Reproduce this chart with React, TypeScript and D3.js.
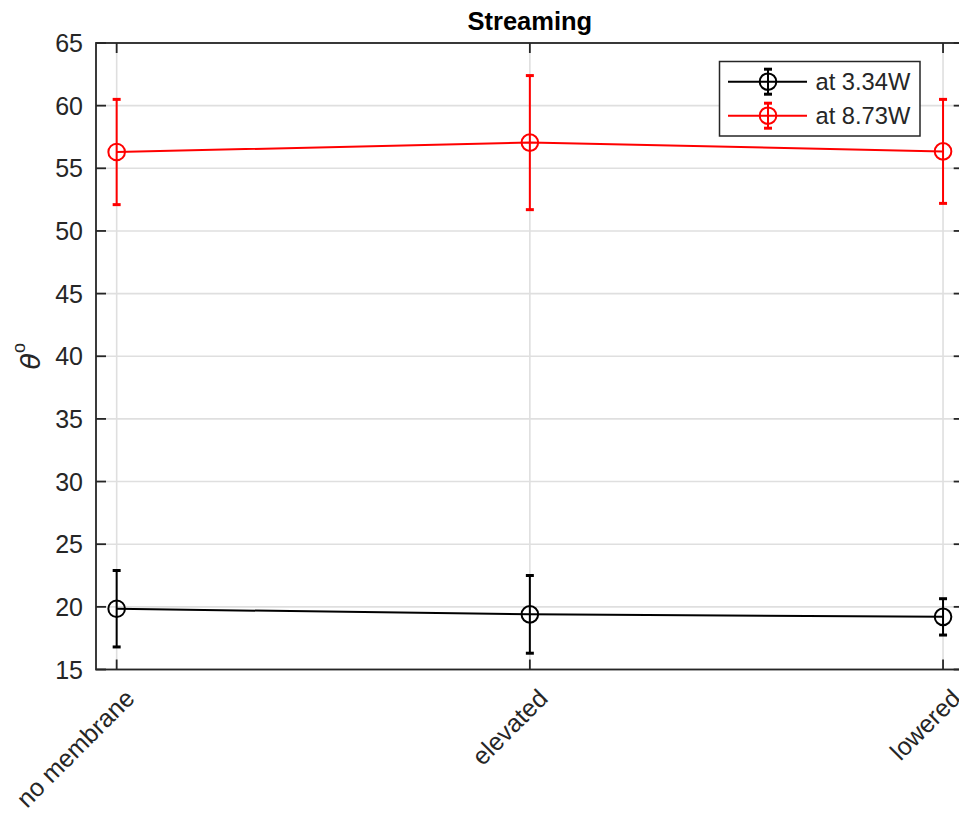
import React from "react";
import * as d3 from "d3";

// Streaming angle per membrane configuration, two power levels
const categories = ["no membrane", "elevated", "lowered"];
const lowPowerMean = [19.85, 19.4, 19.2];
const lowPowerErr = [3.05, 3.1, 1.45];
const highPowerMean = [56.3, 57.05, 56.35];
const highPowerErr = [4.2, 5.35, 4.15];
const yTicks = [15, 20, 25, 30, 35, 40, 45, 50, 55, 60, 65];
const seriesNames = ["at 3.34W", "at 8.73W"];

const W = 959;
const H = 819;
const left = 96;
const right = 963.7;
const top = 43;
const bottom = 669.5;
const axisColor = "#262626";
const font = "'Liberation Sans', Arial, Helvetica, sans-serif";

export default function App() {
  const x = d3.scaleLinear().domain([0.95, 3.05]).range([left, right]);
  const y = d3.scaleLinear().domain([15, 65]).range([bottom, top]);
  const idx = categories.map((_, i) => i + 1);

  const series = [
    { name: seriesNames[0], color: "#000000", mean: lowPowerMean, err: lowPowerErr },
    { name: seriesNames[1], color: "#ff0000", mean: highPowerMean, err: highPowerErr },
  ];

  const line = d3
    .line<number>()
    .x((_, i) => x(idx[i]))
    .y((d) => y(d));

  const capW = 4;
  const r = 8.3;

  return (
    <svg
      width={W}
      height={H}
      style={{ position: "absolute", left: 0, top: 0, background: "#fff" }}
      fontFamily={font}
    >
      <rect x={0} y={0} width={W} height={H} fill="#fff" />
      {/* grid */}
      <g stroke="#dfdfdf" strokeWidth={1.6}>
        {yTicks.map((t) => (
          <line key={"gy" + t} x1={left} x2={right} y1={y(t)} y2={y(t)} />
        ))}
        {idx.map((v) => (
          <line key={"gx" + v} x1={x(v)} x2={x(v)} y1={top} y2={bottom} />
        ))}
      </g>

      {/* axes box and ticks */}
      <g stroke={axisColor} strokeWidth={1.8} fill="none">
        <rect x={left} y={top} width={right - left} height={bottom - top} />
        {yTicks.map((t) => (
          <g key={"ty" + t}>
            <line x1={left} x2={left + 10} y1={y(t)} y2={y(t)} />
            <line x1={right} x2={right - 10} y1={y(t)} y2={y(t)} />
          </g>
        ))}
        {idx.map((v) => (
          <g key={"tx" + v}>
            <line x1={x(v)} x2={x(v)} y1={bottom} y2={bottom - 10} />
            <line x1={x(v)} x2={x(v)} y1={top} y2={top + 10} />
          </g>
        ))}
      </g>

      {/* y tick labels */}
      <g fill={axisColor} fontSize={25} textAnchor="end">
        {yTicks.map((t) => (
          <text key={"ly" + t} x={left - 13} y={y(t)} dy="0.36em">
            {t}
          </text>
        ))}
      </g>

      {/* x tick labels */}
      <g fill={axisColor} fontSize={25} textAnchor="end">
        {categories.map((c, i) => (
          <text
            key={c}
            transform={`translate(${x(idx[i]) + 7},${bottom + 18}) rotate(-45)`}
            dy="0.7em"
          >
            {c}
          </text>
        ))}
      </g>

      {/* y axis label */}
      <text
        transform={`translate(${40},${(top + bottom) / 2}) rotate(-90)`}
        textAnchor="middle"
        fill={axisColor}
        fontSize={27}
      >
        <tspan fontStyle="italic" fontFamily="'DejaVu Sans', sans-serif">θ</tspan>
        <tspan dy={-15} fontSize={18}>o</tspan>
      </text>

      {/* title */}
      <text
        x={(left + right) / 2}
        y={29.5}
        textAnchor="middle"
        fontWeight="bold"
        fontSize={25.5}
        fill="#000"
      >
        Streaming
      </text>

      {/* series */}
      {series.map((s) => (
        <g key={s.name} stroke={s.color} fill="none">
          <path d={line(s.mean) || ""} strokeWidth={2} />
          {s.mean.map((m, i) => {
            const cx = x(idx[i]);
            const hi = y(m + s.err[i]);
            const lo = y(m - s.err[i]);
            return (
              <g key={i}>
                <line x1={cx} x2={cx} y1={hi} y2={lo} strokeWidth={2} />
                <line x1={cx - capW} x2={cx + capW} y1={hi} y2={hi} strokeWidth={3} />
                <line x1={cx - capW} x2={cx + capW} y1={lo} y2={lo} strokeWidth={3} />
                <circle cx={cx} cy={y(m)} r={r} strokeWidth={2} fill="none" />
              </g>
            );
          })}
        </g>
      ))}

      {/* legend */}
      <g>
        <rect
          x={719.5}
          y={61.5}
          width={200.5}
          height={74.5}
          fill="#fff"
          stroke={axisColor}
          strokeWidth={1.5}
        />
        {series.map((s, i) => {
          const ly = 81.7 + i * 34;
          return (
            <g key={"lg" + s.name}>
              <g stroke={s.color} fill="none">
                <line x1={728} x2={807} y1={ly} y2={ly} strokeWidth={2} />
                <line x1={768} x2={768} y1={ly - 12.5} y2={ly + 12.5} strokeWidth={2} />
                <line x1={764} x2={772} y1={ly - 12.5} y2={ly - 12.5} strokeWidth={3} />
                <line x1={764} x2={772} y1={ly + 12.5} y2={ly + 12.5} strokeWidth={3} />
                <circle cx={768} cy={ly} r={r} strokeWidth={2} />
              </g>
              <text x={815.5} y={ly} dy="0.36em" fontSize={23.7} fill={axisColor}>
                {s.name}
              </text>
            </g>
          );
        })}
      </g>
    </svg>
  );
}
